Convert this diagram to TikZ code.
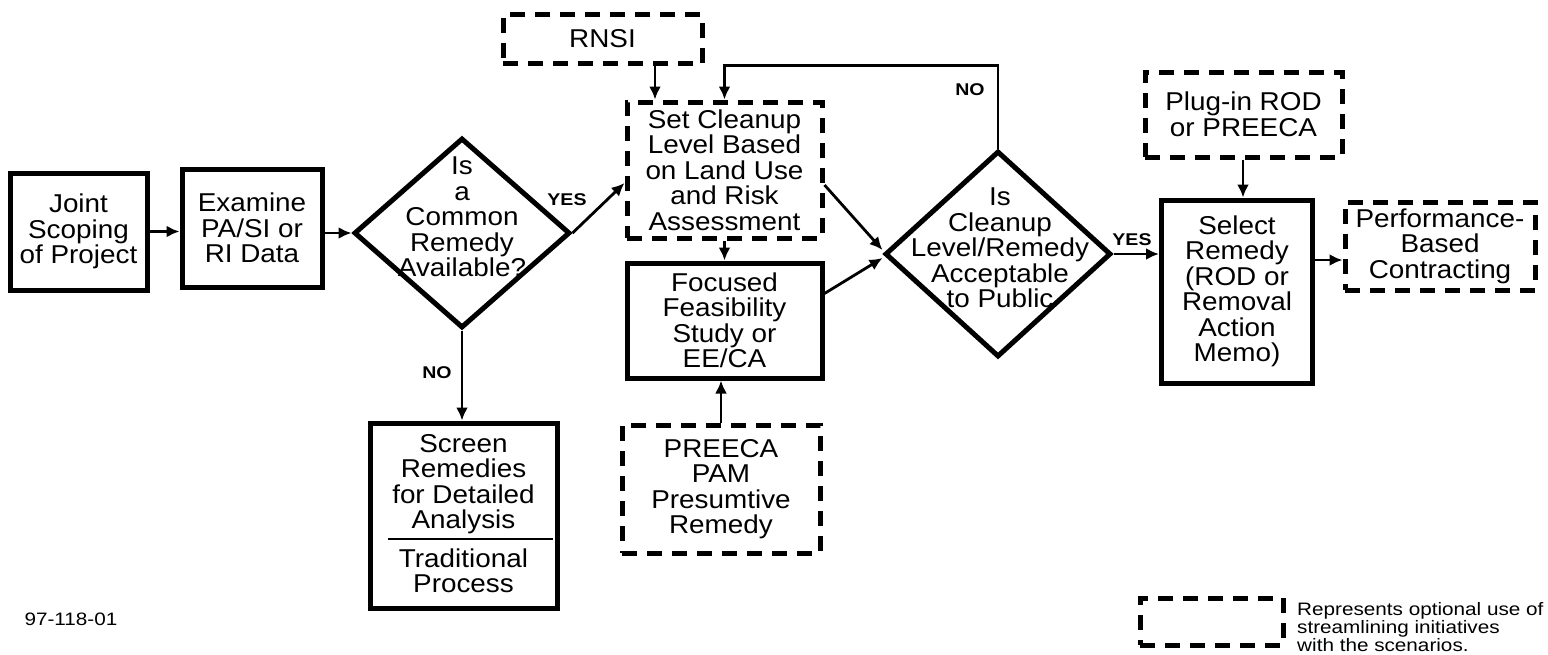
\documentclass[tikz,border=0pt]{standalone}
\usepackage{fontspec}
\setmainfont{Liberation Sans}[FakeStretch=1.08]
\newfontfamily\widefont{Liberation Sans}[FakeStretch=1.15]
\usetikzlibrary{arrows.meta,shapes.geometric,calc}

\begin{document}
\begin{tikzpicture}[x=1pt,y=-1pt,
  base/.style={font=\fontsize{25.8}{25.5}\selectfont, align=center, inner sep=0pt},
  solidbox/.style={base, rectangle, draw, line width=5pt, fill=white},
  optbox/.style={base, rectangle, draw, line width=5pt, dash pattern=on 15pt off 10pt, fill=white},
  decision/.style={diamond, draw, line width=5pt, inner sep=0pt, fill=white},
  arr/.style={line width=2.8pt, -{Latex[length=13pt,width=12pt]}},
  lab/.style={font=\widefont\bfseries\fontsize{17}{17}\selectfont, inner sep=0pt},
  note/.style={font=\widefont\fontsize{18}{18}\selectfont, inner sep=0pt},
]
\useasboundingbox (0,0) rectangle (1548,654);

% main chain
\node[solidbox, minimum width=137pt, minimum height=117pt] (scope) at (78.5,231.5)
  {Joint\\Scoping\\of Project};
\node[solidbox, minimum width=140pt, minimum height=118pt] (exam) at (252,228)
  {Examine\\PA/SI or\\RI Data};

\node[decision, minimum width=216pt, minimum height=190pt] (common) at (462,233) {};
\node[base] (commontxt) at (462,217) {Is\\a\\Common\\Remedy\\Available?};

\node[solidbox, minimum width=187pt, minimum height=185pt] (screen) at (463.5,515.5) {};
\node[base] (screentop) at (463.5,484) {Screen\\Remedies\\for Detailed\\Analysis};
\node[base] (screenbot) at (463.5,571) {Traditional\\Process};
\draw[line width=2pt] (388,539) -- (553,539);

\node[optbox, minimum width=199pt, minimum height=49pt] (rnsi) at (602.5,39) {RNSI};
\node[optbox, minimum width=195pt, minimum height=136pt] (setc) at (724.5,170)
  {Set Cleanup\\Level Based\\on Land Use\\and Risk\\Assessment};
\node[solidbox, minimum width=195pt, minimum height=115pt] (ffs) at (724.5,320.5)
  {Focused\\Feasibility\\Study or\\EE/CA};
\node[optbox, minimum width=198pt, minimum height=128pt] (pre) at (721,489)
  {PREECA\\PAM\\Presumtive\\Remedy};

\node[decision, minimum width=226pt, minimum height=206pt] (accept) at (998,254) {};
\node[base] (accepttxt) at (1000,248) {Is\\Cleanup\\Level/Remedy\\Acceptable\\to Public};

\node[optbox, minimum width=197pt, minimum height=85pt] (plug) at (1243.5,114.5)
  {Plug-in ROD\\or PREECA};
\node[solidbox, minimum width=151pt, minimum height=183pt] (select) at (1237,291.5)
  {Select\\Remedy\\(ROD or\\Removal\\Action\\Memo)};
\node[optbox, minimum width=190pt, minimum height=88pt] (perf) at (1440,246)
  {Performance-\\Based\\Contracting};

% connectors
\draw[arr] (scope.east) -- (scope.east -| exam.west);
\draw[arr] (exam.east |- common.west) -- (common.west);
\draw[arr] (common.east) -- ([yshift=-13pt]setc.west);
\node[lab] (yes1) at (567,200) {YES};
\draw[arr] (common.south) -- (common.south |- screen.north);
\node[lab] (no1) at (437,373) {NO};

\coordinate (rnsiout) at ([xshift=52.5pt]rnsi.south);
\draw[arr] (rnsiout) -- (rnsiout |- setc.north);
\draw[arr] (accept.north) |- ($(setc.north)+(0,-34)$) -- (setc.north);
\node[lab] (no2) at (970,90) {NO};

\draw[arr] ([yshift=-15pt]setc.east) -- ([yshift=4pt]accept.west);
\draw[arr] (setc.south) -- (ffs.north);
\draw[arr] ([yshift=27pt]ffs.east) -- ([yshift=-4pt]accept.west);
\draw[arr] (pre.north) -- (pre.north |- ffs.south);

\draw[arr] (accept.east) -- (accept.east -| select.west);
\node[lab] (yes2) at (1132,240) {YES};
\coordinate (plugout) at ([xshift=-0.5pt]plug.south);
\draw[arr] (plugout) -- (plugout |- select.north);
\coordinate (perfin) at ([yshift=-14pt]perf.west);
\draw[arr] (perfin -| select.east) -- (perfin);

% key and figure number
\node[optbox, minimum width=143pt, minimum height=47pt] (key) at (1211.5,621.5) {};
\node[note, anchor=west, align=left] (keytxt) at (1297,627)
  {Represents optional use of\\streamlining initiatives\\with the scenarios.};
\node[note] (fig) at (71,619) {97-118-01};
\end{tikzpicture}
\end{document}
